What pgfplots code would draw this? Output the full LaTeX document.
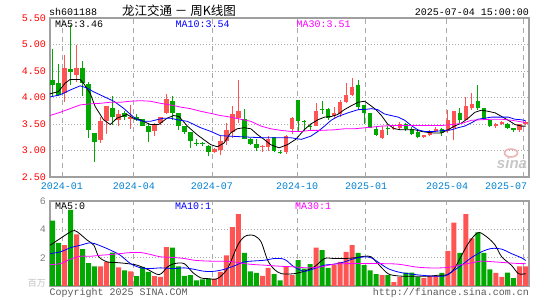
\documentclass[border=0pt]{standalone}
\usepackage{fontspec}
\setmainfont{Liberation Mono}
\newfontfamily\cjk{Noto Sans CJK SC}
\newfontfamily\wmfont{Liberation Sans}
\usepackage{pgfplots}
\usepackage{pgfplotstable}
\pgfplotsset{compat=1.18}

\definecolor{up}{RGB}{255,84,84}
\definecolor{dn}{RGB}{0,168,0}
\definecolor{frm}{RGB}{160,160,160}
\definecolor{gridc}{RGB}{170,170,170}
\definecolor{datec}{RGB}{0,128,208}
\definecolor{ma10}{RGB}{0,0,255}
\definecolor{ma30}{RGB}{255,0,255}

% weekly candles, i = bar index
\pgfplotstableread{
i o h l c
2 4.08 4.80 3.91 4.56
4 4.43 4.99 4.30 4.56
8 3.20 3.63 3.14 3.55
9 3.55 3.84 3.32 3.84
11 3.58 3.77 3.46 3.69
13 3.59 3.86 3.41 3.64
17 3.36 3.52 3.27 3.49
18 3.51 3.63 3.49 3.63
19 3.71 4.07 3.69 3.98
27 2.97 3.05 2.96 3.02
28 3.01 3.27 2.91 3.18
29 3.18 3.51 3.11 3.38
30 3.34 3.84 3.24 3.69
31 3.61 4.33 3.51 3.74
35 3.06 3.11 2.97 3.08
36 3.07 3.27 2.99 3.22
39 2.97 3.30 2.94 3.28
40 3.41 3.63 3.32 3.61
44 3.47 3.89 3.46 3.75
47 3.66 3.82 3.61 3.71
48 3.68 3.96 3.64 3.91
49 3.91 4.27 3.89 4.05
50 4.05 4.36 4.02 4.19
55 3.23 3.46 3.21 3.38
57 3.40 3.49 3.38 3.42
58 3.42 3.53 3.38 3.50
62 3.25 3.30 3.23 3.29
63 3.29 3.39 3.27 3.36
64 3.36 3.44 3.34 3.41
66 3.36 3.77 3.33 3.57
67 3.42 3.75 3.19 3.75
69 3.58 4.00 3.57 3.84
70 3.81 4.09 3.77 3.88
74 3.46 3.52 3.43 3.50
75 3.50 3.55 3.49 3.54
78 3.38 3.50 3.35 3.50
79 3.50 3.55 3.49 3.53
}\upk

\pgfplotstableread{
i o h l c
0 4.33 4.91 4.02 4.24
1 4.27 4.63 4.02 4.05
3 4.53 5.37 4.24 4.48
5 4.56 4.69 4.02 4.27
6 4.25 4.30 3.24 3.38
7 3.33 3.33 2.78 3.16
10 3.81 4.02 3.49 3.63
12 3.71 3.74 3.57 3.63
14 3.63 3.68 3.55 3.58
15 3.59 3.59 3.46 3.47
16 3.47 3.52 3.16 3.34
20 3.93 4.02 3.57 3.71
21 3.71 3.71 3.38 3.46
22 3.46 3.46 3.32 3.34
23 3.34 3.34 3.05 3.18
24 3.15 3.21 3.08 3.13
25 3.14 3.16 3.08 3.12
26 3.09 3.11 2.89 2.97
32 3.59 3.79 3.21 3.22
33 3.21 3.24 3.11 3.13
34 3.13 3.21 2.99 3.05
37 3.26 3.26 2.97 2.99
38 2.98 3.01 2.93 2.96
41 3.96 3.96 3.36 3.55
42 3.56 3.58 3.36 3.54
43 3.47 3.50 3.39 3.45
45 3.79 3.94 3.68 3.77
46 3.78 3.80 3.58 3.61
51 4.24 4.33 3.77 3.83
52 3.86 3.86 3.50 3.71
53 3.71 3.71 3.43 3.43
54 3.41 3.46 3.27 3.30
56 3.42 3.46 3.30 3.40
59 3.50 3.52 3.36 3.41
60 3.41 3.44 3.30 3.32
61 3.34 3.36 3.23 3.26
65 3.41 3.43 3.28 3.33
68 3.71 3.80 3.52 3.58
71 3.93 4.24 3.77 3.80
72 3.80 3.80 3.58 3.59
73 3.57 3.58 3.44 3.46
76 3.50 3.52 3.41 3.42
77 3.42 3.43 3.35 3.38
}\dnk

% price moving averages
\pgfplotstableread{
i v
-0.45 4.07
0.95 4.11
2.07 4.27
2.9 4.34
4.58 4.34
5.14 4.27
6.26 4.08
7.09 3.83
8.49 3.58
9.61 3.49
10.73 3.61
12.4 3.68
13.5 3.61
14.6 3.58
16.3 3.49
17.7 3.49
19.1 3.61
20.2 3.66
21.1 3.64
22.5 3.46
24.1 3.30
25.3 3.20
26.4 3.11
27.5 3.07
28.6 3.14
29.7 3.33
30.8 3.41
32.0 3.43
33.1 3.41
34.2 3.30
35.3 3.21
36.4 3.11
37.8 3.05
39.2 3.11
40.6 3.21
42.0 3.39
43.1 3.50
44.3 3.58
45.4 3.63
46.5 3.64
47.6 3.68
48.7 3.77
49.8 3.84
51.0 3.91
52.1 3.93
53.2 3.84
54.0 3.77
54.9 3.66
56.0 3.49
57.1 3.41
58.2 3.39
60.5 3.39
61.6 3.36
62.7 3.34
63.8 3.33
64.9 3.33
66.0 3.39
67.1 3.46
68.3 3.52
69.4 3.61
70.5 3.72
71.6 3.76
72.7 3.74
73.9 3.71
75.0 3.64
76.1 3.57
77.2 3.49
78.3 3.46
79 3.46
}\mafive

\pgfplotstableread{
i v
-0.45 4.01
1.23 4.05
2.9 4.14
4.58 4.22
5.7 4.18
6.8 4.11
8.49 4.02
10.2 3.93
11.8 3.80
13.0 3.68
14.1 3.58
15.2 3.55
16.3 3.55
17.4 3.58
18.5 3.61
19.7 3.61
20.8 3.58
22.5 3.55
23.6 3.49
24.7 3.43
26.4 3.36
28.0 3.28
29.7 3.27
31.4 3.26
33.1 3.25
35.3 3.24
37.5 3.24
39.8 3.24
41.5 3.21
43.1 3.27
44.3 3.36
45.4 3.46
46.5 3.57
47.6 3.64
49.3 3.71
51.0 3.77
52.6 3.78
53.2 3.79
54.3 3.77
55.4 3.69
56.5 3.66
57.7 3.63
58.8 3.57
59.9 3.47
61.0 3.39
62.1 3.36
63.8 3.36
65.5 3.38
66.6 3.39
67.7 3.43
68.8 3.46
69.9 3.52
71.0 3.59
72.2 3.61
73.3 3.63
76.1 3.63
77.2 3.59
78.3 3.58
79 3.56
}\maten

\pgfplotstableread{
i v
-0.45 3.66
1.23 3.72
2.9 3.79
4.58 3.86
6.26 3.88
7.93 3.89
9.61 3.91
11.3 3.91
13.0 3.93
14.6 3.94
16.3 3.93
18.0 3.89
19.7 3.86
21.3 3.82
23.0 3.79
24.7 3.74
26.4 3.70
28.0 3.66
29.7 3.63
31.4 3.59
33.1 3.55
34.8 3.46
36.4 3.41
38.1 3.38
39.8 3.36
41.5 3.36
43.1 3.38
44.8 3.38
47.0 3.39
48.7 3.41
50.4 3.41
53.2 3.44
54.9 3.46
56.5 3.47
64.9 3.47
66.6 3.49
68.3 3.51
69.9 3.57
71.6 3.58
73.3 3.59
75.0 3.59
76.7 3.57
78.3 3.54
79 3.53
}\mathirty

% weekly volume, millions
\pgfplotstableread{
i v
2 2.88
4 3.64
8 1.39
9 1.70
11 1.32
13 1.04
17 0.69
18 0.64
19 2.74
27 0.52
28 0.99
29 2.17
30 4.16
31 5.08
35 0.71
36 1.28
39 1.39
40 0.76
44 2.70
47 1.47
48 1.70
49 2.41
50 2.88
55 0.76
57 0.28
58 0.64
62 0.57
63 0.71
64 0.71
66 2.48
67 4.47
69 5.08
70 3.36
74 0.92
75 0.64
78 1.39
79 1.39
}\upv

\pgfplotstableread{
i v
0 4.61
1 3.05
3 5.37
5 2.60
6 1.61
7 1.39
10 2.36
12 1.11
14 0.69
15 1.35
16 0.99
20 2.70
21 1.39
22 0.71
23 0.76
24 0.40
25 0.47
26 0.52
32 2.34
33 1.04
34 0.92
37 0.83
38 0.40
41 1.82
42 1.23
43 1.54
45 2.53
46 1.28
51 2.34
52 1.47
53 1.11
54 0.83
56 0.76
59 0.95
60 0.95
61 0.64
65 0.92
68 2.34
71 3.78
72 2.34
73 1.18
76 0.95
77 0.55
}\dnv

\pgfplotstableread{
i v
-0.4 2.88
1.28 3.36
3.24 3.88
4.08 3.83
5.75 3.24
6.87 2.88
7.71 2.06
9.11 1.70
10.8 1.65
12.5 1.58
14.1 1.47
15.8 1.18
17.8 0.80
19.2 1.35
20.3 1.58
21.96 1.58
23.4 0.95
24.75 0.57
25.9 0.52
27.5 0.52
29.2 1.23
30.9 2.88
32.0 3.48
32.8 3.59
33.7 3.55
34.8 3.12
35.9 1.82
37.0 1.18
38.2 0.87
40.3 0.87
42.0 1.04
43.7 1.35
45.4 1.94
47.0 1.94
48.7 1.94
50.4 1.99
52.1 2.10
53.2 2.06
54.3 1.58
56.0 0.87
57.7 0.71
59.3 0.69
62.7 0.69
64.3 0.76
66.0 0.80
67.1 1.23
68.3 2.17
69.4 3.00
70.5 3.59
71.3 3.78
72.7 3.40
73.9 2.88
75.0 2.06
76.6 1.47
77.8 0.87
79 0.87
}\vmafive

\pgfplotstableread{
i v
-0.4 2.29
1.28 2.41
2.96 2.70
4.64 2.88
6.31 3.05
7.71 2.88
9.66 2.53
11.3 2.17
13.0 1.58
14.7 1.28
16.4 1.23
18.0 1.28
20.3 1.23
21.96 1.28
23.6 1.18
25.3 1.04
27.0 1.04
28.7 1.18
30.3 1.42
32.0 1.70
33.7 1.77
35.4 1.82
37.0 1.94
38.4 1.92
39.2 1.75
40.3 1.35
42.0 1.04
43.7 1.23
45.4 1.47
47.0 1.54
48.7 1.70
50.4 1.94
52.1 2.06
53.2 1.99
54.3 1.70
56.0 1.23
57.7 0.99
59.3 0.87
61.6 0.76
63.8 0.69
65.5 0.71
66.6 0.99
68.3 1.47
69.9 1.99
71.6 2.41
73.3 2.65
75.0 2.60
76.6 2.29
78.3 1.99
79 1.80
}\vmaten

\pgfplotstableread{
i v
-0.4 1.51
1.28 1.58
2.96 1.89
4.64 2.10
6.31 2.10
8.0 2.17
9.66 2.22
11.3 2.29
13.0 2.36
14.7 2.36
16.4 2.22
18.0 2.06
20.3 2.01
21.96 1.94
23.6 1.82
25.3 1.77
27.0 1.75
28.7 1.75
30.3 1.70
32.0 1.58
33.7 1.51
35.4 1.47
37.0 1.42
38.7 1.38
40.3 1.35
42.6 1.28
44.8 1.35
47.0 1.54
49.3 1.58
54.8 1.58
57.7 1.54
60.5 1.35
62.7 1.28
64.9 1.28
66.6 1.35
68.3 1.51
69.9 1.63
71.6 1.75
73.9 1.70
76.1 1.63
78.3 1.58
79 1.58
}\vmathirty

\pgfplotsset{
  kpanel/.style={
    scale only axis, width=479bp, anchor=south west,
    xmin=-0.45, xmax=79.55,
    axis line style={draw=frm, line width=1.3bp},
    major tick length=0pt,
    xtick={1.55,13.57,26.6,40.8,52.3,65.8,78.7},
    xticklabels={},
    xmajorgrids, ymajorgrids,
    x grid style={gridc, dash pattern=on 5bp off 4bp, line width=0.9bp},
    y grid style={gridc, dash pattern=on 1bp off 2bp, line width=0.9bp},
    /pgf/number format/assume math mode=true,
    yticklabel style={inner sep=0pt, xshift=-4bp, anchor=east},
  },
}

\begin{document}
\fontsize{10bp}{12bp}\selectfont
\begin{tikzpicture}
\useasboundingbox (0,0) rectangle (545bp,300bp);

% price panel
\begin{axis}[kpanel, at={(50bp,123bp)}, height=159bp,
  ymin=2.5, ymax=5.5, ytick={2.5,3,3.5,4,4.5,5,5.5},
  yticklabel={\pgfmathprintnumber[fixed,fixed zerofill,precision=2]{\tick}},
  yticklabel style={red}]
  \addplot[dn, line width=1bp, quiver={u=0, v=\thisrow{h}-\thisrow{l}}] table[x=i, y=l]{\dnk};
  \addplot[dn, line width=4.5bp, quiver={u=0, v=\thisrow{c}-\thisrow{o}}] table[x=i, y=o]{\dnk};
  \addplot[up, line width=1bp, quiver={u=0, v=\thisrow{h}-\thisrow{l}}] table[x=i, y=l]{\upk};
  \addplot[up, line width=4.5bp, quiver={u=0, v=\thisrow{c}-\thisrow{o}}] table[x=i, y=o]{\upk};
  \addplot[black, line width=0.8bp] table[x=i, y=v]{\mafive};
  \addplot[ma10, line width=0.8bp] table[x=i, y=v]{\maten};
  \addplot[ma30, line width=0.8bp] table[x=i, y=v]{\mathirty};
\end{axis}

% volume panel
\begin{axis}[kpanel, at={(50bp,14bp)}, height=85bp,
  ymin=0, ymax=6, ytick={2,4,6},
  yticklabel={\pgfmathprintnumber{\tick}},
  yticklabel style={gray}]
  \addplot[ybar, bar width=5bp, bar shift=0pt, fill=up, draw=none] table[x=i, y=v]{\upv};
  \addplot[ybar, bar width=5bp, bar shift=0pt, fill=dn, draw=none] table[x=i, y=v]{\dnv};
  \addplot[black, line width=0.8bp, smooth] table[x=i, y=v]{\vmafive};
  \addplot[ma10, line width=0.8bp, smooth] table[x=i, y=v]{\vmaten};
  \addplot[ma30, line width=0.8bp, smooth] table[x=i, y=v]{\vmathirty};
\end{axis}

% header
\node[anchor=base west, inner sep=0] at (49bp,284bp) {sh601188};
\node[anchor=base, inner sep=0] at (179bp,284.5bp) {\cjk\fontsize{12.5bp}{14bp}\selectfont 龙江交通 － 周K线图};
\node[anchor=base east, inner sep=0] at (529bp,284bp) {2025-07-04 15:00:00};

% moving average captions
\node[anchor=base west, inner sep=0] at (55bp,272.5bp) {MA5:3.46};
\node[anchor=base west, inner sep=0, text=ma10] at (175.5bp,272.5bp) {MA10:3.54};
\node[anchor=base west, inner sep=0, text=ma30] at (296.5bp,272.5bp) {MA30:3.51};
\node[anchor=base west, inner sep=0] at (55bp,90bp) {MA5:0};
\node[anchor=base west, inner sep=0, text=ma10] at (175bp,90bp) {MA10:1};
\node[anchor=base west, inner sep=0, text=ma30] at (295bp,90bp) {MA30:1};

% date labels
\foreach \x/\t in {62/2024-01,134/2024-04,212/2024-07,297/2024-10,366/2025-01,447/2025-04,506/2025-07}
  \node[anchor=base, inner sep=0, text=datec] at (\x bp,110bp) {\t};

% unit, footer, watermark
\node[anchor=east, inner sep=0, text=black!25] at (46bp,17bp) {\cjk\fontsize{9bp}{10bp}\selectfont 百万};
\node[anchor=base west, inner sep=0, text=black!65] at (49.5bp,4.5bp) {Copyright 2025 SINA.COM};
\node[anchor=base east, inner sep=0, text=black!65] at (529bp,4.5bp) {http://finance.sina.com.cn};
\draw[color={rgb,255:red,238;green,180;blue,180}, line width=1.6bp] (511bp,147bp) ellipse (6.5bp and 4bp);
\node[anchor=base, inner sep=0, text=black!22] at (512bp,131bp) {\wmfont\bfseries\itshape\fontsize{15bp}{16bp}\selectfont sina};
\end{tikzpicture}
\end{document}
